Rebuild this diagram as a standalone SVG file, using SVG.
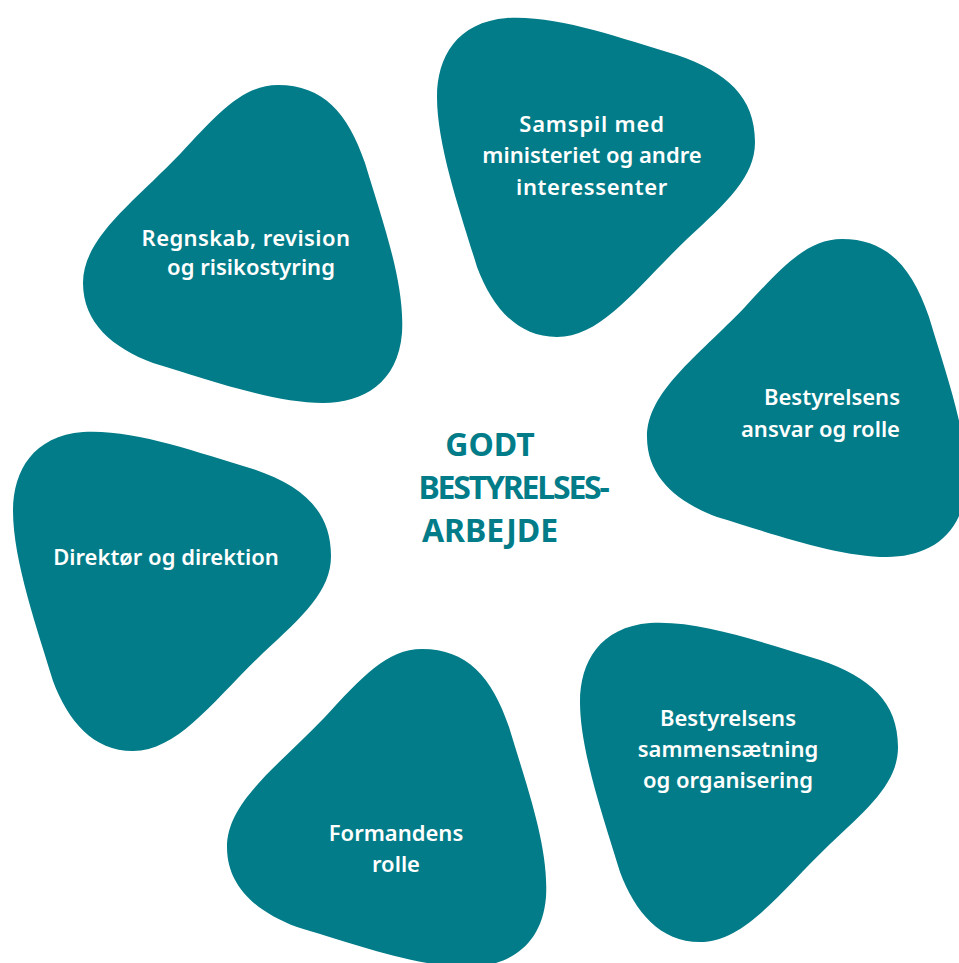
<svg xmlns="http://www.w3.org/2000/svg" width="959" height="963" viewBox="0 0 959 963">
<style>
.blob{fill:#027c88}
.lbl{font-family:"Noto Sans","DejaVu Sans",sans-serif;font-weight:600;font-size:22px;fill:#ffffff;text-anchor:middle}
.title{font-family:"Noto Sans","DejaVu Sans",sans-serif;font-weight:700;font-size:32px;fill:#027c88;text-anchor:middle}
</style>
<defs>
<path id="blobA" d="M0,80 C0,40 20,5 70,1 C120,-2 180,20 240,38 C290,55 318,80 318,125 C318,160 290,185 250,222 C200,270 165,320 120,320 C80,320 55,290 40,250 C25,200 0,130 0,80 Z"/>
</defs>
<rect width="959" height="963" fill="#ffffff"/>
<g id="connectors"/>
<g id="node-samspil">
<use href="#blobA" class="blob" transform="translate(437,17)"/>
<text class="lbl" x="592" y="132" style="letter-spacing:0.8px">Samspil med</text>
<text class="lbl" x="592" y="163">ministeriet og andre</text>
<text class="lbl" x="592" y="195" style="letter-spacing:0.6px">interessenter</text>
</g>
<g id="node-regnskab">
<use href="#blobA" class="blob" transform="translate(83,83) matrix(0,-1,-1,0,320,320)"/>
<text class="lbl" x="246" y="246" style="letter-spacing:0.4px">Regnskab, revision</text>
<text class="lbl" x="251" y="275">og risikostyring</text>
</g>
<g id="node-ansvar">
<use href="#blobA" class="blob" transform="translate(647,237) matrix(0,-1,-1,0,320,320)"/>
<text class="lbl" x="900" y="405" style="text-anchor:end">Bestyrelsens</text>
<text class="lbl" x="900" y="437" style="text-anchor:end">ansvar og rolle</text>
</g>
<g id="node-direktoer">
<use href="#blobA" class="blob" transform="translate(13,431)"/>
<text class="lbl" x="166" y="565">Direktør og direktion</text>
</g>
<g id="node-sammensaetning">
<use href="#blobA" class="blob" transform="translate(580,622)"/>
<text class="lbl" x="728" y="726">Bestyrelsens</text>
<text class="lbl" x="728" y="757">sammensætning</text>
<text class="lbl" x="728" y="788">og organisering</text>
</g>
<g id="node-formand">
<use href="#blobA" class="blob" transform="translate(227,647) matrix(0,-1,-1,0,320,320)"/>
<text class="lbl" x="396" y="841">Formandens</text>
<text class="lbl" x="396" y="872">rolle</text>
</g>
<g id="node-center">
<text class="title" x="490" y="456">GODT</text>
<text class="title" x="513" y="499" style="letter-spacing:-2.2px">BESTYRELSES-</text>
<text class="title" x="490" y="542">ARBEJDE</text>
</g>
</svg>
